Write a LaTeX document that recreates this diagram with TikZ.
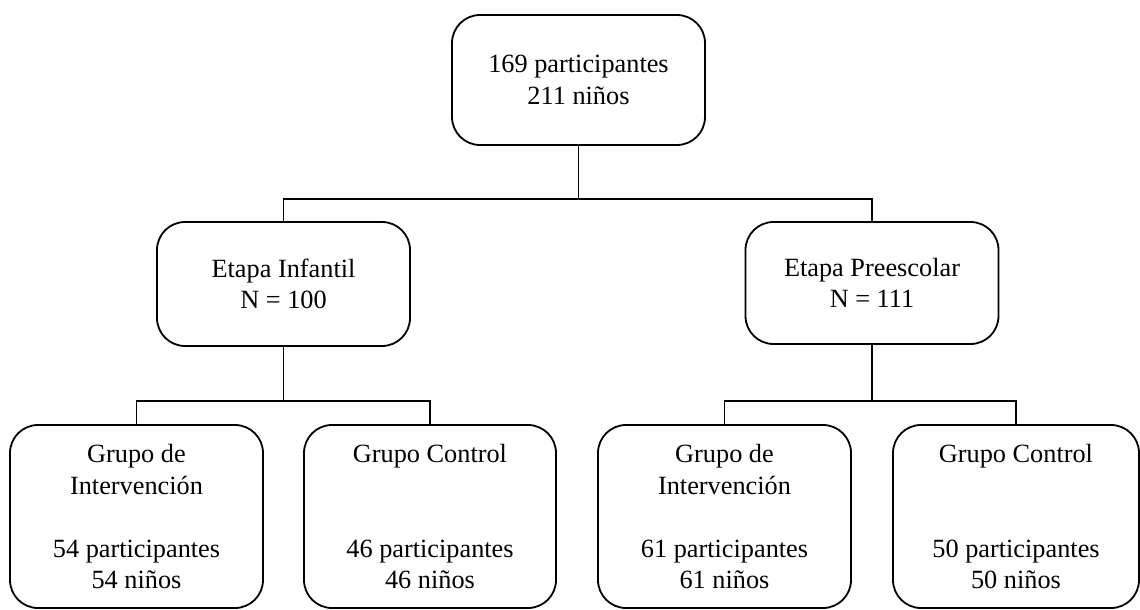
\documentclass[tikz,border=0pt]{standalone}
\usepackage{fontspec}
\setmainfont{Liberation Serif}
\usepackage{tikz}

\begin{document}
\begin{tikzpicture}[
	x=1pt, y=-1pt,
	caja/.style={draw, line width=1.8pt, rounded corners=28pt, align=center,
		font=\fontsize{26.3}{31.5}\selectfont, inner sep=0pt, minimum width=253pt},
	linea/.style={line width=1.1pt}
]
	\useasboundingbox (0,0) rectangle (1140,610);

	\node[caja, minimum height=130pt] (total) at (578.5,80) {169 participantes\\211 niños};

	\node[caja, minimum height=124pt] (infantil) at (283.5,284) {Etapa Infantil\\N = 100};
	\node[caja, minimum height=122pt] (preescolar) at (872,283) {Etapa Preescolar\\N = 111};

	\node[caja, minimum height=183pt] (intinf) at (136.5,516.5) {Grupo de\\Intervención\\~\\54 participantes\\54 niños};
	\node[caja, minimum height=183pt, minimum width=252pt] (continf) at (430,516.5) {Grupo Control\\~\\~\\46 participantes\\46 niños};
	\node[caja, minimum height=183pt] (intpre) at (724.5,516.5) {Grupo de\\Intervención\\~\\61 participantes\\61 niños};
	\node[caja, minimum height=183pt, minimum width=246pt] (contpre) at (1016,516.5) {Grupo Control\\~\\~\\50 participantes\\50 niños};

	\coordinate (nivel1) at (578.5,199);
	\coordinate (nivel2) at (283.5,401);
	\coordinate (nivel3) at (872,401);

	\draw[linea] (total.south) -- (nivel1);
	\draw[linea] (infantil.north) |- (nivel1) -| (preescolar.north);

	\draw[linea] (infantil.south) -- (nivel2);
	\draw[linea] (intinf.north) |- (nivel2) -| (continf.north);

	\draw[linea] (preescolar.south) -- (nivel3);
	\draw[linea] (intpre.north) |- (nivel3) -| (contpre.north);
\end{tikzpicture}
\end{document}
